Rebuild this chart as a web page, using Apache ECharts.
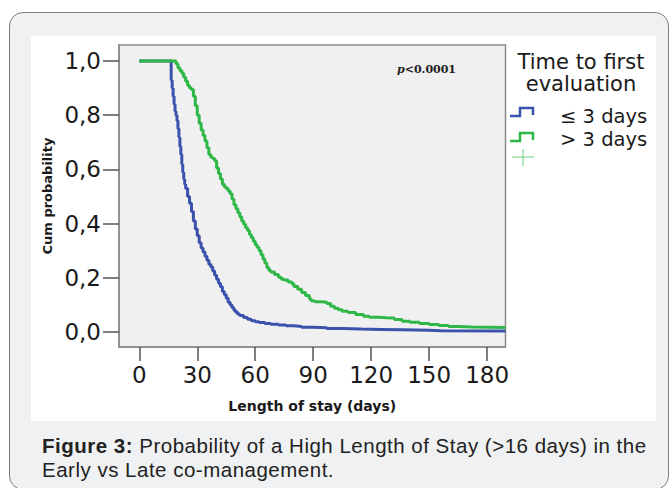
<!DOCTYPE html>
<html><head><meta charset="utf-8">
<script src="https://cdn.jsdelivr.net/npm/echarts@6/dist/echarts.min.js"></script>
<style>
html,body{margin:0;padding:0;background:#fff;width:670px;height:488px;overflow:hidden;}
#card{position:absolute;left:9px;top:12px;width:660px;height:478px;border:1.5px solid #7d7d7d;border-radius:14px;background:#f0f1f3;box-sizing:border-box;}
#panel{position:absolute;left:31px;top:36px;width:625px;height:385px;background:#fff;}
#chart{position:absolute;left:0;top:0;width:670px;height:488px;}
#caption{position:absolute;left:42px;top:434px;font-family:"Liberation Sans",Arial,sans-serif;font-size:20.5px;letter-spacing:0.5px;line-height:24px;color:#222;white-space:nowrap;}
</style></head>
<body>
<div id="card"></div>
<div id="panel"></div>
<div id="chart"></div>
<div id="caption"><b>Figure 3:</b> Probability of a High Length of Stay (&gt;16 days) in the<br>Early vs Late co-management.</div>
<script>
// ---- data ----
const seriesNames = ['≤ 3 days', '> 3 days'];
const legendTitle = ['Time to first', 'evaluation'];
const xTicks = [0, 30, 60, 90, 120, 150, 180];
const yTicks = [0, 0.2, 0.4, 0.6, 0.8, 1.0];

const daysEarly = [0,16.5,17,17.5,18,18.5,19,19.5,20,20.5,21,21.5,22,22.5,23,23.5,24,25,26,27,28,29,30,31,32,33,34,35,36,37,38,39,40,41,42,43,44,45,46,47,48,49,50,51,52,54,56,58,60,62,65,68,72,76,80,84,90,97,105,115,125,136,150,156,189.5];
const survEarly = [1.0,0.93,0.90,0.87,0.84,0.815,0.80,0.78,0.75,0.72,0.685,0.655,0.62,0.59,0.565,0.545,0.53,0.50,0.475,0.445,0.41,0.38,0.355,0.33,0.31,0.295,0.28,0.265,0.25,0.24,0.225,0.21,0.195,0.18,0.167,0.15,0.138,0.125,0.11,0.10,0.09,0.08,0.072,0.066,0.061,0.054,0.047,0.042,0.038,0.035,0.032,0.029,0.026,0.023,0.021,0.018,0.016,0.013,0.011,0.010,0.009,0.007,0.005,0.004,0.004];

const daysLate = [0,18,19,20,21,22,23,24,25,26,27,28,29,30,31,32,33,34,35,36,37,38,39,40,41,42,43,44,45,46,47,48,49,50,51,52,53,54,55,56,57,58,59,60,61,62,63,64,65,66,67,68,70,72,73.5,75,77,79,80,82,84,86,88,89,91,94,97,99,101,103,105,108,112,116,119,124,128,132,136,140,145,150,155,160,165,172,189.5];
const survLate = [1.0,1.0,0.99,0.975,0.965,0.955,0.94,0.925,0.91,0.90,0.895,0.87,0.835,0.80,0.77,0.745,0.725,0.705,0.68,0.655,0.645,0.64,0.632,0.605,0.585,0.565,0.545,0.535,0.53,0.52,0.51,0.49,0.47,0.455,0.44,0.425,0.41,0.398,0.385,0.375,0.36,0.348,0.335,0.322,0.312,0.30,0.285,0.27,0.255,0.238,0.228,0.222,0.212,0.202,0.195,0.192,0.185,0.178,0.168,0.158,0.146,0.135,0.122,0.115,0.112,0.11,0.105,0.095,0.088,0.082,0.077,0.072,0.065,0.058,0.055,0.053,0.052,0.046,0.04,0.036,0.032,0.028,0.024,0.021,0.019,0.017,0.016];

const colors = ['#3b52ad', '#2fb848'];

const zip = (a, b) => a.map((v, i) => [v, b[i]]);

const chart = echarts.init(document.getElementById('chart'), null, {renderer: 'svg'});
const FONT = '"DejaVu Sans", Verdana, sans-serif';

const stepIcon = (y, color) => ({
  type: 'polyline',
  shape: {points: [[510, y + 8], [520, y + 8], [520, y], [533, y], [533, y + 7]]},
  style: {stroke: color, lineWidth: 2.5, fill: null}
});

chart.setOption({
  animation: false,
  backgroundColor: 'transparent',
  grid: {left: 119, top: 45, width: 386.5, height: 302, show: true,
         backgroundColor: '#f0f0f0', borderColor: '#8a8a8a', borderWidth: 1.5},
  xAxis: {
    type: 'value', min: -10.5, max: 189.5,
    name: 'Length of stay (days)', nameLocation: 'middle', nameGap: 52,
    nameTextStyle: {fontFamily: FONT, fontWeight: 'bold', fontSize: 14, color: '#1a1a1a'},
    axisLine: {show: true, onZero: false, lineStyle: {color: '#8a8a8a', width: 1.5}},
    axisTick: {show: true, length: 14, customValues: xTicks, lineStyle: {color: '#555', width: 1.5}},
    axisLabel: {customValues: xTicks, margin: 16, fontFamily: FONT, fontSize: 23, color: '#1a1a1a'},
    splitLine: {show: false}
  },
  yAxis: {
    type: 'value', min: -0.055, max: 1.059,
    name: 'Cum probability', nameLocation: 'middle', nameGap: 64,
    nameTextStyle: {fontFamily: FONT, fontWeight: 'bold', fontSize: 13, color: '#1a1a1a'},
    axisLine: {show: true, onZero: false, lineStyle: {color: '#8a8a8a', width: 1.5}},
    axisTick: {show: true, length: 16, customValues: yTicks, lineStyle: {color: '#555', width: 1.5}},
    axisLabel: {customValues: yTicks, margin: 18, fontFamily: FONT, fontSize: 23, color: '#1a1a1a',
                formatter: v => v.toFixed(1).replace('.', ',')},
    splitLine: {show: false}
  },
  series: [
    {name: seriesNames[0], type: 'line', step: 'end', showSymbol: false, data: zip(daysEarly, survEarly),
     lineStyle: {color: colors[0], width: 3}, itemStyle: {color: colors[0]}},
    {name: seriesNames[1], type: 'line', step: 'end', showSymbol: false, data: zip(daysLate, survLate),
     lineStyle: {color: colors[1], width: 3}, itemStyle: {color: colors[1]}}
  ],
  graphic: [
    {type: 'text', left: 397, top: 64, style: {
      text: '{i|p}{b|<0.0001}',
      rich: {i: {fontFamily: '"DejaVu Serif", serif', fontStyle: 'italic', fontWeight: 'bold', fontSize: 11, fill: '#222'},
             b: {fontFamily: '"DejaVu Serif", serif', fontWeight: 'bold', fontSize: 11, fill: '#222'}}}},
    {type: 'text', x: 581, y: 62, style: {text: legendTitle[0], fontFamily: FONT, fontSize: 21, fill: '#1a1a1a', align: 'center', verticalAlign: 'middle'}},
    {type: 'text', x: 581, y: 84, style: {text: legendTitle[1], fontFamily: FONT, fontSize: 21, fill: '#1a1a1a', align: 'center', verticalAlign: 'middle'}},
    stepIcon(108, colors[0]),
    stepIcon(133, colors[1]),
    {type: 'text', x: 560, y: 116, style: {text: seriesNames[0], fontFamily: FONT, fontSize: 19.5, fill: '#1a1a1a', verticalAlign: 'middle'}},
    {type: 'text', x: 560, y: 139, style: {text: seriesNames[1], fontFamily: FONT, fontSize: 19.5, fill: '#1a1a1a', verticalAlign: 'middle'}},
    {type: 'polyline', shape: {points: [[512, 157], [534, 157]]}, style: {stroke: '#6fd07a', lineWidth: 1}},
    {type: 'polyline', shape: {points: [[523, 149], [523, 166]]}, style: {stroke: '#6fd07a', lineWidth: 1}}
  ]
});
</script>
</body></html>
